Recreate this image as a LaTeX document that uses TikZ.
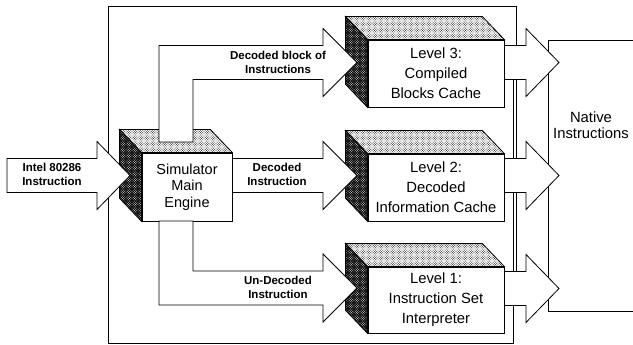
\documentclass[tikz,border=0pt]{standalone}
\usepackage{fontspec}
\setmainfont{Liberation Sans}
\usetikzlibrary{calc,patterns}

% staggered dot stipple used for the shaded faces of the 3-D boxes
\pgfdeclarepatternformonly{finedots}{\pgfqpoint{-0.6pt}{-0.6pt}}{\pgfqpoint{1.8pt}{1.8pt}}{\pgfqpoint{2.4pt}{2.4pt}}{%
  \pgfpathcircle{\pgfqpoint{0pt}{0pt}}{0.45pt}%
  \pgfpathcircle{\pgfqpoint{1.2pt}{1.2pt}}{0.45pt}%
  \pgfusepath{fill}}

\tikzset{
  line/.style={line width=0.8pt},
  front/.style={line, draw, fill=white, inner sep=0pt, align=center,
                font=\fontsize{14.8}{20}\selectfont},
  topface/.style={line, preaction={fill=white}, pattern=finedots, pattern color=black, draw},
  sideface/.style={line, preaction={fill=black}, pattern=finedots, pattern color=white, draw},
  blockarrow/.style={line, fill=white, draw, line join=miter},
  lbl/.style={align=center, inner sep=0pt, font=\fontsize{11.5}{14}\selectfont\bfseries},
  plain/.style={align=center, inner sep=0pt, font=\fontsize{14.8}{16}\selectfont},
}

% top and left faces of a box whose front face is the node #1
\newcommand\boxfaces[1]{%
  \draw[topface] (#1.north west) -- ++(-22,-23) -- ($(#1.north east)+(-22,-23)$) -- (#1.north east) -- cycle;
  \draw[sideface] (#1.north west) -- ++(-22,-23) -- ($(#1.south west)+(-22,-23)$) -- (#1.south west) -- cycle;
}

\begin{document}
\begin{tikzpicture}[x=1pt,y=-1pt]
\useasboundingbox (0,0) rectangle (633,345);

% enclosing frame of the simulator
\draw[line] (516,272) -- (516,6) -- (108,6) -- (108,343) -- (513,343) -- (513,80);

% output box, open to the right
\draw[line] (640,40) -- (548,40) -- (548,311) -- (640,311);
\node[plain] (native) at (591,125) {Native\\Instructions};

% front faces
\node[front, minimum width=90pt, minimum height=68pt,
      font=\fontsize{14.5}{16.5}\selectfont] (sim) at (187,187) {Simulator\\Main\\Engine};
\node[front, minimum width=136pt, minimum height=67pt] (lvlthree) at (436,73.5) {Level 3:\\Compiled\\Blocks Cache};
\node[front, minimum width=136pt, minimum height=67pt] (lvltwo) at (436,187.5) {Level 2:\\Decoded\\Information Cache};
\node[front, minimum width=136pt, minimum height=66pt] (lvlone) at (436,300) {Level 1:\\Instruction Set\\Interpreter};

\boxfaces{sim}
\boxfaces{lvlthree}
\boxfaces{lvltwo}
\boxfaces{lvlone}

% input to the main engine
\draw[blockarrow] (7,158.5) -- (97,158.5) -- (97,141.5) -- (130,175.5) -- (97,209.5) -- (97,192.5) -- (7,192.5) -- cycle;

% main engine to the three levels
\draw[blockarrow] (159,142) -- (159,45.5) -- (323,45.5) -- (323,28.5) -- (357,62.5) -- (323,96.5) -- (323,79.5) -- (193,79.5) -- (193,142) -- cycle;
\draw[blockarrow] (sim.east |- 0,158.5) -- (323,158.5) -- (323,141.5) -- (357,175.5) -- (323,209.5) -- (323,192.5) -- (sim.east |- 0,192.5) -- cycle;
\draw[blockarrow] (159,221) -- (159,305) -- (323,305) -- (323,322) -- (357,288) -- (323,254) -- (323,271) -- (193,271) -- (193,221) -- cycle;

% levels to native instructions
\draw[blockarrow] (lvlthree.east |- 0,45.5) -- (526,45.5) -- (526,28.5) -- (559,62.5) -- (526,96.5) -- (526,79.5) -- (lvlthree.east |- 0,79.5) -- cycle;
\draw[blockarrow] (lvltwo.east |- 0,158.5) -- (526,158.5) -- (526,141.5) -- (559,175.5) -- (526,209.5) -- (526,192.5) -- (lvltwo.east |- 0,192.5) -- cycle;
\draw[blockarrow] (lvlone.east |- 0,271.5) -- (526,271.5) -- (526,254.5) -- (559,288.5) -- (526,322.5) -- (526,305.5) -- (lvlone.east |- 0,305.5) -- cycle;

% arrow labels
\node[lbl] (lbin) at (52,174.5) {Intel 80286\\Instruction};
\node[lbl] (lbblock) at (278,62) {Decoded block of\\Instructions};
\node[lbl] (lbdec) at (277,174.5) {Decoded\\Instruction};
\node[lbl] (lbundec) at (278,287) {Un-Decoded\\Instruction};
\end{tikzpicture}
\end{document}
